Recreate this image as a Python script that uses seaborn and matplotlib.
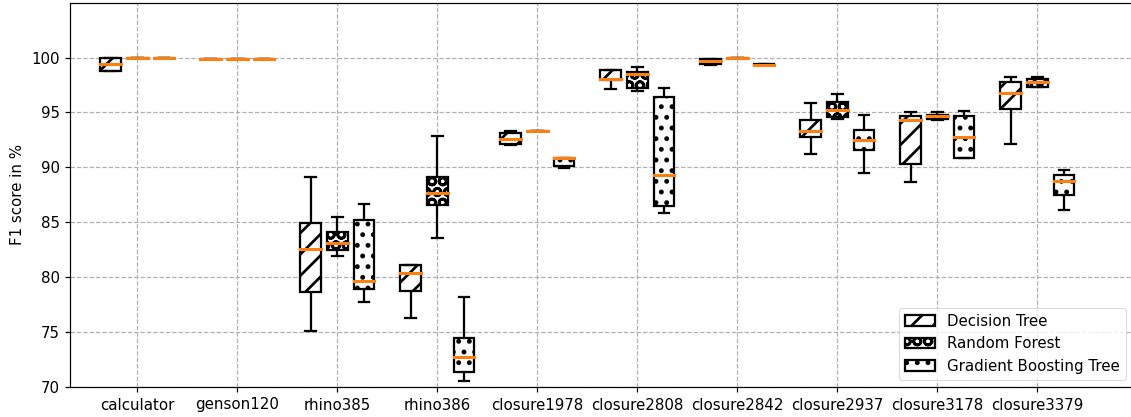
import numpy as np
import pandas as pd
import matplotlib
matplotlib.use("Agg")
import matplotlib.pyplot as plt
from matplotlib.patches import Patch
import seaborn as sns

# ---- data: five-number summaries [min, q1, median, q3, max] ----
projects = ["calculator", "genson120", "rhino385", "rhino386", "closure1978",
            "closure2808", "closure2842", "closure2937", "closure3178", "closure3379"]
classifiers = ["Decision Tree", "Random Forest", "Gradient Boosting Tree"]

dt_stats = [
    [98.8, 98.8, 99.4, 100.0, 100.0],
    [99.9, 99.9, 99.9, 99.9, 99.9],
    [75.1, 78.65, 82.55, 84.9, 89.1],
    [76.3, 78.7, 80.4, 81.15, 81.15],
    [92.0, 92.1, 92.55, 93.1, 93.35],
    [97.15, 97.95, 98.05, 98.85, 98.85],
    [99.35, 99.45, 99.7, 99.9, 99.9],
    [91.2, 92.75, 93.3, 94.35, 95.9],
    [88.65, 90.35, 94.35, 94.65, 95.05],
    [92.1, 95.35, 96.75, 97.75, 98.2],
]
rf_stats = [
    [100.0, 100.0, 100.0, 100.0, 100.0],
    [99.9, 99.9, 99.9, 99.9, 99.9],
    [81.9, 82.5, 83.15, 84.1, 85.5],
    [83.55, 86.55, 87.7, 89.15, 92.85],
    [93.3, 93.3, 93.3, 93.3, 93.3],
    [96.95, 97.25, 98.55, 98.65, 99.15],
    [100.0, 100.0, 100.0, 100.0, 100.0],
    [94.4, 94.55, 95.25, 96.0, 96.65],
    [94.35, 94.45, 94.65, 94.8, 95.05],
    [97.3, 97.35, 97.75, 98.05, 98.25],
]
gbt_stats = [
    [100.0, 100.0, 100.0, 100.0, 100.0],
    [99.9, 99.9, 99.9, 99.9, 99.9],
    [77.75, 78.95, 79.65, 85.25, 86.65],
    [70.55, 71.35, 72.75, 74.45, 78.2],
    [89.9, 90.1, 90.85, 90.9, 90.9],
    [85.85, 86.45, 89.35, 96.45, 97.2],
    [99.3, 99.3, 99.35, 99.4, 99.4],
    [89.5, 91.55, 92.5, 93.45, 94.75],
    [90.85, 90.9, 92.8, 94.7, 95.15],
    [86.15, 87.45, 88.75, 89.35, 89.75],
]
hatches = ["/", "O", "."]
yticks = [70, 75, 80, 85, 90, 95, 100]

rows = []
for clf, stats in zip(classifiers, [dt_stats, rf_stats, gbt_stats]):
    for proj, vals in zip(projects, stats):
        for v in vals:
            rows.append({"project": proj, "clf": clf, "score": v})
df = pd.DataFrame(rows)

# ---- styling ----
DPI = 64
S = 108 / 64
HATCH_LW = 1.8 * S
plt.rcParams.update({
    "font.family": ["DejaVu Sans"],
    "font.size": 10 * S,
    "axes.linewidth": 0.8 * S,
    "xtick.major.size": 3.5 * S, "ytick.major.size": 3.5 * S,
    "xtick.major.width": 0.8 * S, "ytick.major.width": 0.8 * S,
    "xtick.major.pad": 3.5 * S, "ytick.major.pad": 3.5 * S,
    "axes.labelpad": 4 * S,
    "hatch.linewidth": HATCH_LW,
    "legend.fontsize": 10 * S,
})

fig = plt.figure(figsize=(1131 / DPI, 417 / DPI), dpi=DPI)
ax = fig.add_axes([70 / 1131, 1 - 387 / 417, (1133 - 70) / 1131, (387 - 2.7) / 417])

sns.boxplot(data=df, x="project", y="score", hue="clf", order=projects,
            hue_order=classifiers, palette=["white"] * 3, linecolor="black",
            width=0.8, gap=0.22, whis=(0, 100), fliersize=0, linewidth=1.5 * S,
            medianprops=dict(color="#ff7f0e", linewidth=2.0 * S, solid_capstyle="projecting"),
            legend=False, ax=ax)

n = len(projects)
for i, p in enumerate(ax.patches):
    p.set_hatch(hatches[i // n])
    p.set_edgecolor("black")
    p.set_facecolor("white")
    p.set_hatch_linewidth(HATCH_LW)

ax.set_xlim(-0.673, 9.957)
ax.set_ylim(70, 105)
ax.set_yticks(yticks)
ax.set_xlabel("")
ax.set_ylabel("F1 score in %")
ax.grid(True, linestyle="--", color="#b0b0b0", linewidth=0.8 * S)
ax.set_axisbelow(True)

handles = []
for h, c in zip(hatches, classifiers):
    hp = Patch(facecolor="white", edgecolor="black", hatch=h, linewidth=1.5 * S, label=c)
    hp.set_hatch_linewidth(HATCH_LW)
    handles.append(hp)
ax.legend(handles=handles, loc="lower right")

fig.savefig("out.png", dpi=DPI)
